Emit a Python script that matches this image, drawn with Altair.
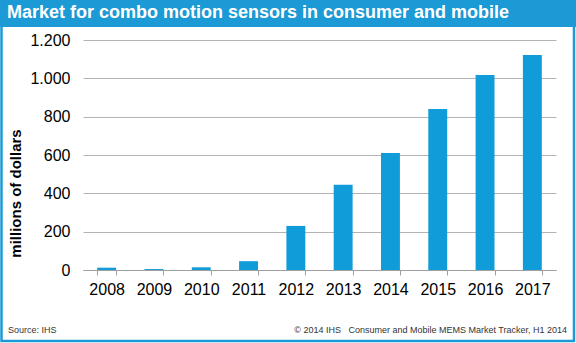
import altair as alt
import pandas as pd

years = ["2008", "2009", "2010", "2011", "2012", "2013", "2014", "2015", "2016", "2017"]
values = [12, 5, 14, 46, 230, 445, 610, 840, 1018, 1122]
y_ticks = [0, 200, 400, 600, 800, 1000, 1200]
title_text = "Market for combo motion sensors in consumer and mobile"
source_text = "Source: IHS"
credit_text = "\u00a9 2014 IHS\u00a0\u00a0 Consumer and Mobile MEMS Market Tracker, H1 2014"
y_title = "millions of dollars"

W, H = 473, 230
L, T, R, B = 83, 40, 20, 73
FONT = "Liberation Sans"
BLUE = "#1b9ad6"
BAR = "#109bd9"
GRID = "#b3b3b3"

df = pd.DataFrame({"year": years, "value": values})
one = pd.DataFrame({"k": [0]})

frame = alt.Chart(one).mark_rect(fillOpacity=0, stroke=BLUE, strokeWidth=2.5, clip=False).encode(
    x=alt.value(-L + 1.5), x2=alt.value(W + R - 2), y=alt.value(-T + 1), y2=alt.value(H + B - 2)
)
band = alt.Chart(one).mark_rect(fill=BLUE, clip=False).encode(
    x=alt.value(-L), x2=alt.value(W + R), y=alt.value(-T), y2=alt.value(-13)
)
title = alt.Chart(one).mark_text(
    align="left", baseline="middle", color="white", fontWeight="bold", fontSize=18, font=FONT, clip=False
).encode(x=alt.value(-76), y=alt.value(-27), text=alt.value(title_text))

bars = alt.Chart(df).mark_bar(color=BAR).encode(
    x=alt.X(
        "year:N",
        sort=years,
        scale=alt.Scale(paddingInner=0.6, paddingOuter=0.3),
        axis=alt.Axis(
            title=None, labelAngle=0, labelFontSize=16, labelFont=FONT, labelColor="black",
            labelPadding=6, domainColor="#a0a0a0", tickColor="#a0a0a0", tickSize=5,
            tickBand="extent", grid=False,
        ),
    ),
    y=alt.Y(
        "value:Q",
        scale=alt.Scale(domain=[0, 1200]),
        axis=alt.Axis(
            title=y_title, titleFontSize=15, titleFont=FONT, titleFontWeight="bold", titleColor="black",
            titlePadding=6, titleY=153, values=y_ticks,
            labelExpr="replace(format(datum.value, ','), ',', '.')",
            labelFontSize=16, labelFont=FONT, labelColor="black", labelPadding=13,
            domain=False, ticks=False, grid=True, gridColor=GRID,
        ),
    ),
)

source = alt.Chart(one).mark_text(
    align="left", baseline="middle", color="#333333", fontSize=9, font=FONT, clip=False
).encode(x=alt.value(-75), y=alt.value(290), text=alt.value(source_text))
credit = alt.Chart(one).mark_text(
    align="right", baseline="middle", color="#333333", fontSize=9, font=FONT, clip=False
).encode(x=alt.value(484), y=alt.value(290), text=alt.value(credit_text))

chart = alt.layer(frame, band, title, bars, source, credit).properties(
    width=W, height=H,
    padding={"left": L, "top": T, "right": R, "bottom": B},
    autosize=alt.AutoSizeParams(type="none"),
    background="white",
).configure_view(stroke=None)

chart.save("out.html", embed_options={"renderer": "svg", "actions": False})
